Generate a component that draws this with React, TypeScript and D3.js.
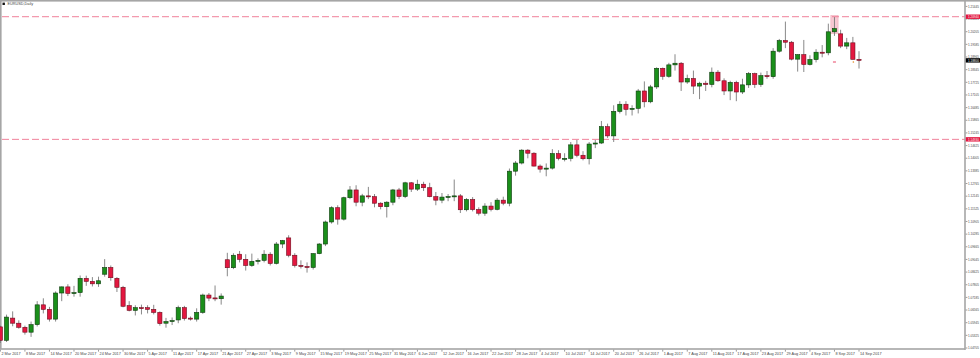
import React from 'react';
import * as d3 from 'd3';

// Weekday bars from 2 Mar 2017 to 14 Sep 2017 (one row per week)
const startDate = '2017-03-02';
const endDate = '2017-09-14';

const opens = [
  1.0574, 1.0508,
  1.0617, 1.0592, 1.0572, 1.0548, 1.0585,
  1.0682, 1.0660, 1.0612, 1.0740, 1.0770,
  1.0738, 1.0742, 1.0812, 1.0797, 1.0785,
  1.0832, 1.0865, 1.0812, 1.0768, 1.0678,
  1.0655, 1.0668, 1.0668, 1.0660, 1.0645,
  1.0592, 1.0600, 1.0608, 1.0668, 1.0617,
  1.0612, 1.0645, 1.0730, 1.0716, 1.0712,
  1.0903, 1.0864, 1.0930, 1.0905, 1.0875,
  1.0895, 1.0900, 1.0930, 1.0885, 1.0980,
  1.1010, 1.0925, 1.0875, 1.0870, 1.0865,
  1.0933, 1.0980, 1.1088, 1.1158, 1.1102,
  1.1207, 1.1245, 1.1185, 1.1216, 1.1212,
  1.1180, 1.1163, 1.1185, 1.1245, 1.1213,
  1.1280, 1.1249, 1.1273, 1.1256, 1.1212,
  1.1195, 1.1210, 1.1213, 1.1216, 1.1148,
  1.1198, 1.1149, 1.1131, 1.1166, 1.1150,
  1.1195, 1.1180, 1.1337, 1.1377, 1.1440,
  1.1425, 1.1362, 1.1347, 1.1352, 1.1423,
  1.1400, 1.1400, 1.1466, 1.1415, 1.1398,
  1.1470, 1.1475, 1.1555, 1.1510, 1.1630,
  1.1665, 1.1640, 1.1645, 1.1730, 1.1677,
  1.1750, 1.1841, 1.1802, 1.1858, 1.1866,
  1.1774, 1.1791, 1.1754, 1.1768, 1.1762,
  1.1822, 1.1780, 1.1730, 1.1772, 1.1725,
  1.1760, 1.1815, 1.1762, 1.1805, 1.1800,
  1.1925, 1.1977, 1.1969, 1.1886, 1.1908,
  1.1860, 1.1884, 1.1920, 1.1917, 1.2020,
  1.2010, 1.1950, 1.1966, 1.1885,
];

const highs = [
  1.0580, 1.0634,
  1.0650, 1.0606, 1.0580, 1.0600, 1.0700,
  1.0714, 1.0672, 1.0748, 1.0772, 1.0783,
  1.0775, 1.0826, 1.0825, 1.0818, 1.0820,
  1.0906, 1.0875, 1.0818, 1.0775, 1.0700,
  1.0680, 1.0683, 1.0680, 1.0682, 1.0650,
  1.0618, 1.0620, 1.0678, 1.0677, 1.0625,
  1.0665, 1.0737, 1.0740, 1.0777, 1.0738,
  1.0937, 1.0935, 1.0946, 1.0930, 1.0933,
  1.0910, 1.0950, 1.0940, 1.0990, 1.1000,
  1.1023, 1.0935, 1.0900, 1.0890, 1.0935,
  1.0985, 1.1095, 1.1165, 1.1170, 1.1212,
  1.1264, 1.1268, 1.1226, 1.1260, 1.1225,
  1.1185, 1.1190, 1.1250, 1.1255, 1.1285,
  1.1284, 1.1295, 1.1285, 1.1280, 1.1235,
  1.1230, 1.1225, 1.1296, 1.1225, 1.1205,
  1.1210, 1.1160, 1.1180, 1.1185, 1.1205,
  1.1212, 1.1350, 1.1387, 1.1445, 1.1445,
  1.1430, 1.1370, 1.1375, 1.1445, 1.1440,
  1.1425, 1.1480, 1.1490, 1.1435, 1.1480,
  1.1490, 1.1583, 1.1570, 1.1660, 1.1680,
  1.1680, 1.1660, 1.1740, 1.1777, 1.1760,
  1.1846, 1.1845, 1.1868, 1.1910, 1.1872,
  1.1810, 1.1830, 1.1775, 1.1780, 1.1845,
  1.1832, 1.1792, 1.1780, 1.1780, 1.1790,
  1.1823, 1.1820, 1.1820, 1.1828, 1.1940,
  1.1985, 1.2070, 1.1975, 1.1910, 1.1980,
  1.1905, 1.1935, 1.1955, 1.2060, 1.2092,
  1.2030, 1.1990, 1.1995, 1.1925,
];

const lows = [
  1.0495, 1.0500,
  1.0577, 1.0565, 1.0536, 1.0525, 1.0576,
  1.0640, 1.0600, 1.0600, 1.0700, 1.0725,
  1.0722, 1.0722, 1.0775, 1.0772, 1.0770,
  1.0820, 1.0800, 1.0745, 1.0670, 1.0650,
  1.0630, 1.0635, 1.0640, 1.0635, 1.0580,
  1.0570, 1.0583, 1.0592, 1.0605, 1.0605,
  1.0600, 1.0638, 1.0700, 1.0700, 1.0683,
  1.0822, 1.0857, 1.0890, 1.0850, 1.0868,
  1.0880, 1.0890, 1.0875, 1.0880, 1.0960,
  1.0915, 1.0865, 1.0860, 1.0840, 1.0855,
  1.0930, 1.0970, 1.1080, 1.1075, 1.1095,
  1.1200, 1.1165, 1.1165, 1.1200, 1.1160,
  1.1150, 1.1110, 1.1170, 1.1200, 1.1205,
  1.1235, 1.1240, 1.1240, 1.1209, 1.1170,
  1.1180, 1.1190, 1.1190, 1.1132, 1.1140,
  1.1140, 1.1120, 1.1118, 1.1140, 1.1145,
  1.1170, 1.1165, 1.1315, 1.1370, 1.1400,
  1.1360, 1.1330, 1.1312, 1.1345, 1.1390,
  1.1385, 1.1385, 1.1405, 1.1390, 1.1370,
  1.1450, 1.1470, 1.1500, 1.1480, 1.1620,
  1.1610, 1.1610, 1.1620, 1.1650, 1.1670,
  1.1740, 1.1785, 1.1795, 1.1830, 1.1730,
  1.1765, 1.1715, 1.1690, 1.1730, 1.1748,
  1.1775, 1.1710, 1.1685, 1.1680, 1.1715,
  1.1745, 1.1745, 1.1750, 1.1790, 1.1790,
  1.1918, 1.1940, 1.1880, 1.1825, 1.1823,
  1.1855, 1.1870, 1.1895, 1.1905, 1.2000,
  1.1940, 1.1935, 1.1885, 1.1840,
];

const closes = [
  1.0508, 1.0622,
  1.0592, 1.0572, 1.0548, 1.0585, 1.0682,
  1.0660, 1.0612, 1.0740, 1.0770, 1.0738,
  1.0742, 1.0812, 1.0797, 1.0785, 1.0800,
  1.0865, 1.0815, 1.0768, 1.0675, 1.0655,
  1.0668, 1.0664, 1.0660, 1.0645, 1.0590,
  1.0600, 1.0605, 1.0668, 1.0615, 1.0612,
  1.0645, 1.0730, 1.0715, 1.0714, 1.0725,
  1.0864, 1.0925, 1.0905, 1.0875, 1.0895,
  1.0900, 1.0930, 1.0885, 1.0980, 1.0997,
  1.0925, 1.0875, 1.0870, 1.0865, 1.0933,
  1.0980, 1.1088, 1.1158, 1.1102, 1.1207,
  1.1245, 1.1185, 1.1216, 1.1212, 1.1180,
  1.1163, 1.1185, 1.1245, 1.1213, 1.1280,
  1.1249, 1.1273, 1.1256, 1.1212, 1.1195,
  1.1210, 1.1213, 1.1216, 1.1148, 1.1198,
  1.1149, 1.1131, 1.1166, 1.1150, 1.1195,
  1.1180, 1.1337, 1.1377, 1.1440, 1.1425,
  1.1362, 1.1347, 1.1352, 1.1423, 1.1400,
  1.1400, 1.1466, 1.1415, 1.1398, 1.1470,
  1.1475, 1.1555, 1.1510, 1.1630, 1.1665,
  1.1640, 1.1645, 1.1730, 1.1677, 1.1750,
  1.1841, 1.1802, 1.1858, 1.1866, 1.1774,
  1.1791, 1.1754, 1.1768, 1.1762, 1.1822,
  1.1780, 1.1730, 1.1772, 1.1725, 1.1760,
  1.1815, 1.1762, 1.1805, 1.1800, 1.1925,
  1.1977, 1.1969, 1.1886, 1.1908, 1.1860,
  1.1884, 1.1920, 1.1917, 1.2020, 1.2036,
  1.1950, 1.1966, 1.1885, 1.1880,
];

const yTickLabels = [
  '1.21445', '1.20825', '1.20205', '1.19585', '1.18965', '1.18345', '1.17725',
  '1.17105', '1.16485', '1.15865', '1.15245', '1.14625', '1.14005', '1.13385',
  '1.12765', '1.12145', '1.11525', '1.10905', '1.10285', '1.09665', '1.09045',
  '1.08425', '1.07805', '1.07185', '1.06565', '1.05945', '1.05325', '1.04705',
];

const levelLines = [1.2094, 1.1493];
const currentPrice = 1.1880;
const highlightBar = 135; // Sep 8
const symbolTitle = 'EURUSD,Daily';

const W = 980;
const H = 358;
const AXIS_X = 965;
const AXIS_Y = 349;
const FONT = '"Liberation Sans", Arial, sans-serif';
const LABEL_LEN = 10.8;

export default function App() {
  const parse = d3.timeParse('%Y-%m-%d');
  const allDays = d3.timeDay.range(parse(startDate)!, d3.timeDay.offset(parse(endDate)!, 1));
  const dates = allDays.filter((d) => d.getDay() !== 0 && d.getDay() !== 6);
  const fmt = d3.timeFormat('%-d %b %Y');

  const x = d3.scaleLinear().domain([0, dates.length - 1]).range([0.4, 859]);
  const y = d3
    .scaleLinear()
    .domain([+yTickLabels[yTickLabels.length - 1], +yTickLabels[0]])
    .range([348, 6.4]);

  const bars = dates.map((d, i) => ({
    d, i, o: opens[i], h: highs[i], l: lows[i], c: closes[i],
  }));

  const bodyW = 4.2;
  const hb = bars[highlightBar + 1];

  return (
    <svg
      width={W}
      height={H}
      style={{ position: 'absolute', left: 0, top: 0, background: '#fff' }}
      fontFamily={FONT}
    >
      <rect x={0} y={0} width={W} height={H} fill="#fff" />
      {/* frame */}
      <rect x={0} y={0} width={W} height={1.6} fill="#a6a6a6" />
      <rect x={0} y={0} width={1.6} height={AXIS_Y} fill="#a6a6a6" />

      {/* highlight rectangle */}
      {hb && (
        <rect
          x={x(hb.i) - 3.6}
          y={y(hb.h) - 1.5}
          width={7.2}
          height={y(hb.l) - y(hb.h) - 1}
          fill="#f7c9d3"
          stroke="#f2a9b8"
          strokeWidth={0.6}
        />
      )}

      {/* level lines */}
      {levelLines.map((lv, k) => (
        <line
          key={k}
          x1={2}
          x2={AXIS_X}
          y1={y(lv)}
          y2={y(lv)}
          stroke="#f0819a"
          strokeWidth={1}
          strokeDasharray="7 3"
        />
      ))}

      {/* candles */}
      {bars.map((b) => {
        const cx = x(b.i);
        const up = b.c >= b.o;
        const top = y(Math.max(b.o, b.c));
        const bot = y(Math.min(b.o, b.c));
        const bh = Math.max(1, bot - top);
        return (
          <g key={b.i}>
            <line x1={cx} x2={cx} y1={y(b.h)} y2={y(b.l)} stroke="#7a7a7a" strokeWidth={0.9} />
            <rect
              x={cx - bodyW / 2}
              y={top}
              width={bodyW}
              height={bh}
              fill={up ? '#1a8f1a' : '#e3173f'}
              stroke={up ? '#0c3a0c' : '#6e0c1e'}
              strokeWidth={0.6}
            />
          </g>
        );
      })}

      {/* small objects near the last bars */}
      <line x1={x(136) - 1.5} x2={x(136) + 1.5} y1={62} y2={62} stroke="#e3173f" strokeWidth={0.8} />
      <line x1={x(137) - 2.5} x2={x(137) + 0.5} y1={39} y2={42} stroke="#e3173f" strokeWidth={0.6} />
      <circle cx={x(139) + 0.5} cy={62} r={0.8} fill="#e08a1e" />

      {/* axes */}
      <rect x={AXIS_X - 0.8} y={0} width={1.6} height={AXIS_Y + 1} fill="#a6a6a6" />
      <rect x={0} y={AXIS_Y - 0.8} width={AXIS_X} height={1.6} fill="#a6a6a6" />

      {/* y ticks */}
      {yTickLabels.map((t, k) => {
        const yy = y(+t);
        return (
          <g key={k}>
            <line x1={AXIS_X + 0.8} x2={AXIS_X + 2.4} y1={yy} y2={yy} stroke="#555" strokeWidth={0.6} />
            <text
              x={AXIS_X + 3}
              y={yy + 1.2}
              fontSize={3.4}
              fill="#444"
              textLength={LABEL_LEN}
              lengthAdjust="spacingAndGlyphs"
            >
              {t}
            </text>
          </g>
        );
      })}

      {/* level labels */}
      {levelLines.map((lv, k) => (
        <g key={k}>
          <rect x={AXIS_X + 0.8} y={y(lv) - 2.2} width={W - AXIS_X} height={4.4} fill="#e3173f" />
          <text
            x={AXIS_X + 3}
            y={y(lv) + 1.2}
            fontSize={3.4}
            fill="#fff"
            textLength={LABEL_LEN}
            lengthAdjust="spacingAndGlyphs"
          >
            {lv.toFixed(5)}
          </text>
        </g>
      ))}
      <rect x={AXIS_X + 0.8} y={y(currentPrice) - 2.2} width={W - AXIS_X} height={4.4} fill="#000" />
      <text
        x={AXIS_X + 3}
        y={y(currentPrice) + 1.2}
        fontSize={3.4}
        fill="#fff"
        textLength={LABEL_LEN}
        lengthAdjust="spacingAndGlyphs"
      >
        {currentPrice.toFixed(5)}
      </text>

      {/* x ticks */}
      {bars.filter((b) => b.i % 4 === 0).map((b) => {
        const cx = x(b.i);
        return (
          <g key={b.i}>
            <line x1={cx} x2={cx} y1={AXIS_Y + 0.8} y2={AXIS_Y + 2.6} stroke="#555" strokeWidth={0.6} />
            <text x={cx + 1} y={AXIS_Y + 6} fontSize={3.8} fill="#444">{fmt(b.d)}</text>
          </g>
        );
      })}

      {/* title */}
      <rect x={2.5} y={2.6} width={2.4} height={2.4} fill="#111" />
      <text x={7.5} y={5.4} fontSize={3.8} fill="#444">{symbolTitle}</text>
    </svg>
  );
}
